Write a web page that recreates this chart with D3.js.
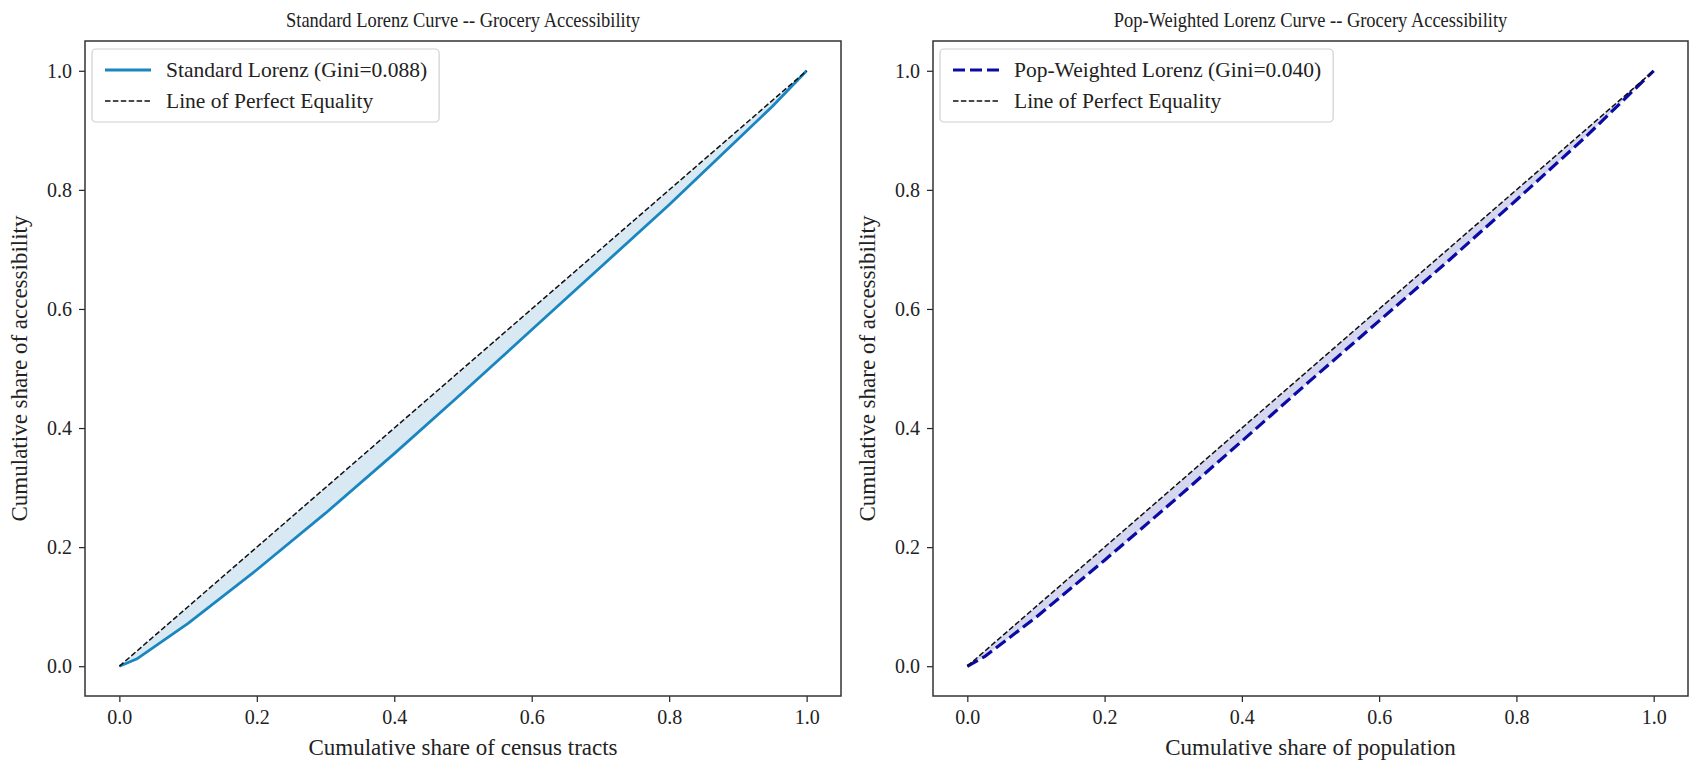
<!DOCTYPE html>
<html><head><meta charset="utf-8">
<script src="https://cdn.jsdelivr.net/npm/d3@7"></script>
<style>body{margin:0;background:#fff}svg{display:block}text{font-family:"Liberation Serif","Times New Roman",serif;fill:#222}</style>
</head><body>
<svg id="c" width="1707" height="776"></svg>
<script>
// ---- data ----
const ticks = [0.0, 0.2, 0.4, 0.6, 0.8, 1.0];
const stdX = [0, 0.025, 0.1, 0.2, 0.3, 0.4, 0.5, 0.6, 0.7, 0.8, 0.9, 0.95, 1.0];
const stdY = [0, 0.012, 0.072, 0.162, 0.257, 0.357, 0.46, 0.565, 0.67, 0.775, 0.885, 0.94, 1.0];
const popX = [0, 0.025, 0.1, 0.2, 0.3, 0.4, 0.5, 0.6, 0.7, 0.8, 0.9, 1.0];
const popY = [0, 0.016, 0.082, 0.178, 0.277, 0.378, 0.48, 0.58, 0.68, 0.783, 0.888, 1.0];
const eqX = [0, 1];
const eqY = [0, 1];
const titles = ["Standard Lorenz Curve -- Grocery Accessibility", "Pop-Weighted Lorenz Curve -- Grocery Accessibility"];
const xLabels = ["Cumulative share of census tracts", "Cumulative share of population"];
const yLabel = "Cumulative share of accessibility";
const legendNames = ["Standard Lorenz (Gini=0.088)", "Pop-Weighted Lorenz (Gini=0.040)"];
const eqName = "Line of Perfect Equality";

const svg = d3.select("#c");
const panels = [
  {L:85, R:841, xs:stdX, ys:stdY, color:"#1a86c0", dash:null, lw:2.8, fill:"#d9e9f4"},
  {L:933, R:1688, xs:popX, ys:popY, color:"#0a0aa6", dash:"12,5", lw:3.2, fill:"#d5d7f0"}
];
const T = 41, B = 696;

panels.forEach((p, i) => {
  const x = d3.scaleLinear().domain([-0.05, 1.05]).range([p.L, p.R]);
  const y = d3.scaleLinear().domain([-0.05, 1.05]).range([B, T]);
  const g = svg.append("g");
  const pts = p.xs.map((v, k) => [v, p.ys[k]]);
  const area = d3.area().x(d => x(d[0])).y0(d => y(d[1])).y1(d => y(d[0]));
  g.append("path").datum(pts).attr("d", area).attr("fill", p.fill);
  const line = d3.line().x(d => x(d[0])).y(d => y(d[1]));
  const cp = g.append("path").datum(pts).attr("d", line).attr("fill", "none")
    .attr("stroke", p.color).attr("stroke-width", p.lw).attr("stroke-linejoin", "round");
  if (p.dash) cp.attr("stroke-dasharray", p.dash);
  g.append("path").datum(eqX.map((v, k) => [v, eqY[k]])).attr("d", line).attr("fill", "none")
    .attr("stroke", "#111").attr("stroke-width", 1.5).attr("stroke-dasharray", "5.5,2.4");
  const xa = g.append("g").attr("transform", `translate(0,${B})`)
    .call(d3.axisBottom(x).tickValues(ticks).tickFormat(d3.format(".1f")).tickSize(6).tickPadding(8));
  const ya = g.append("g").attr("transform", `translate(${p.L},0)`)
    .call(d3.axisLeft(y).tickValues(ticks).tickFormat(d3.format(".1f")).tickSize(6).tickPadding(7));
  [xa, ya].forEach(a => {
    a.select(".domain").remove();
    a.selectAll("line").attr("stroke", "#222").attr("stroke-width", 1.2);
    a.selectAll("text").attr("font-size", 20).attr("font-family", '"Liberation Serif",serif').attr("fill", "#222");
  });
  g.append("rect").attr("x", p.L).attr("y", T).attr("width", p.R - p.L).attr("height", B - T)
    .attr("fill", "none").attr("stroke", "#333").attr("stroke-width", 1.5);
  const cx = (p.L + p.R) / 2;
  g.append("text").attr("transform", `translate(${cx},27) scale(0.9,1)`).attr("text-anchor", "middle")
    .attr("font-size", 20.5).text(titles[i]);
  g.append("text").attr("x", cx).attr("y", 755).attr("text-anchor", "middle").attr("font-size", 23).text(xLabels[i]);
  g.append("text").attr("transform", `translate(${p.L - 58},${(T + B) / 2}) rotate(-90)`)
    .attr("text-anchor", "middle").attr("font-size", 23).text(yLabel);
  // legend
  const lx = p.L + 7, ly = 49;
  const lg = g.append("g");
  const box = lg.append("rect").attr("x", lx).attr("y", ly).attr("rx", 4).attr("height", 73)
    .attr("fill", "#fff").attr("fill-opacity", 0.85).attr("stroke", "#d0d0d0").attr("stroke-width", 1.2);
  const e1 = ly + 21, e2 = ly + 52;
  const s1 = lg.append("line").attr("x1", lx + 13).attr("x2", lx + 59).attr("y1", e1).attr("y2", e1)
    .attr("stroke", p.color).attr("stroke-width", p.lw);
  if (p.dash) s1.attr("stroke-dasharray", p.dash);
  lg.append("line").attr("x1", lx + 13).attr("x2", lx + 59).attr("y1", e2).attr("y2", e2)
    .attr("stroke", "#111").attr("stroke-width", 1.5).attr("stroke-dasharray", "5.5,2.4");
  const t1 = lg.append("text").attr("x", lx + 74).attr("y", e1 + 7).attr("font-size", 21.5).text(legendNames[i]);
  const t2 = lg.append("text").attr("x", lx + 74).attr("y", e2 + 7).attr("font-size", 21.5).text(eqName);
  const w = Math.max(t1.node().getComputedTextLength(), t2.node().getComputedTextLength());
  box.attr("width", 74 + w + 12);
});
</script>
</body></html>
